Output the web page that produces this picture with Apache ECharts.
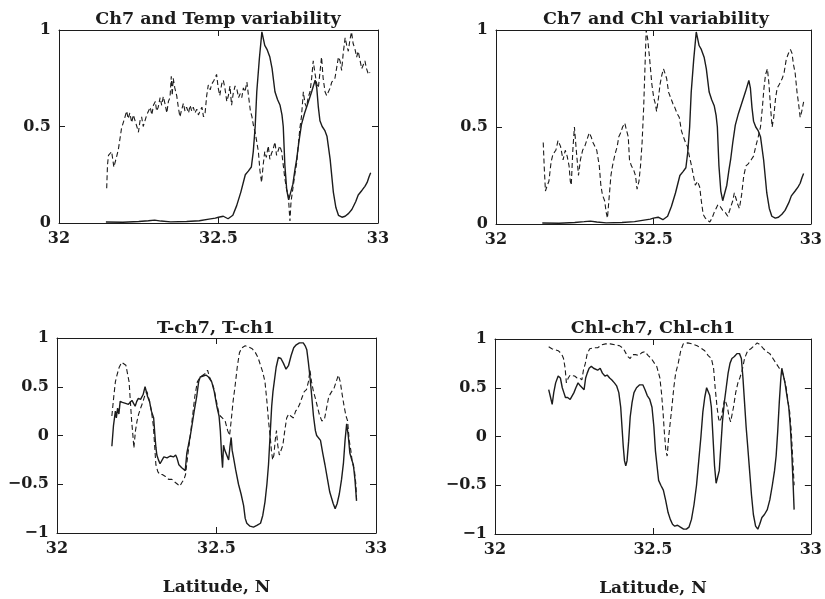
<!DOCTYPE html>
<html>
<head>
<meta charset="utf-8">
<script src="https://cdn.jsdelivr.net/npm/echarts@6/dist/echarts.min.js"></script>
<style>
  html, body { margin: 0; padding: 0; background: #fff; }
  #chart { width: 825px; height: 599px; }
</style>
</head>
<body>
<div id="chart"></div>
<script>
// latitude ticks and panel titles
var latTicks = [32, 32.5, 33];
var titles = ['Ch7 and Temp variability', 'Ch7 and Chl variability', 'T-ch7, T-ch1', 'Chl-ch7, Chl-ch1'];

// channel 7 variability (solid, top panels)
var ch7 = [[32.147,0.005],[32.2,0.004],[32.25,0.008],[32.28,0.012],[32.3,0.015],[32.32,0.01],[32.35,0.006],[32.4,0.008],[32.44,0.012],[32.47,0.02],[32.49,0.025],[32.5,0.03],[32.515,0.035],[32.53,0.022],[32.545,0.04],[32.557,0.09],[32.57,0.16],[32.584,0.25],[32.594,0.27],[32.603,0.29],[32.609,0.37],[32.615,0.5],[32.62,0.68],[32.628,0.85],[32.636,0.99],[32.645,0.92],[32.652,0.9],[32.661,0.86],[32.668,0.8],[32.677,0.68],[32.685,0.64],[32.693,0.61],[32.699,0.56],[32.703,0.5],[32.708,0.3],[32.714,0.17],[32.72,0.12],[32.726,0.13],[32.733,0.2],[32.74,0.28],[32.745,0.33],[32.752,0.42],[32.76,0.51],[32.77,0.57],[32.782,0.63],[32.792,0.68],[32.803,0.74],[32.808,0.7],[32.813,0.6],[32.818,0.53],[32.825,0.5],[32.833,0.48],[32.84,0.45],[32.85,0.33],[32.86,0.16],[32.868,0.08],[32.876,0.04],[32.887,0.03],[32.897,0.035],[32.908,0.05],[32.918,0.07],[32.93,0.11],[32.938,0.145],[32.95,0.17],[32.959,0.19],[32.966,0.21],[32.972,0.24],[32.977,0.26]];

// temperature variability (dashed, top left)
var temp = [[32.1495,0.18],[32.152,0.3],[32.155,0.35],[32.165,0.37],[32.172,0.29],[32.18,0.34],[32.186,0.38],[32.196,0.49],[32.207,0.55],[32.212,0.58],[32.217,0.54],[32.222,0.57],[32.228,0.52],[32.233,0.56],[32.238,0.57],[32.244,0.5],[32.249,0.47],[32.254,0.53],[32.259,0.55],[32.264,0.5],[32.27,0.51],[32.275,0.56],[32.28,0.57],[32.286,0.6],[32.291,0.56],[32.296,0.61],[32.302,0.63],[32.306,0.58],[32.311,0.6],[32.317,0.65],[32.322,0.61],[32.327,0.655],[32.332,0.62],[32.338,0.57],[32.343,0.63],[32.348,0.65],[32.352,0.76],[32.355,0.66],[32.358,0.75],[32.363,0.7],[32.369,0.66],[32.374,0.6],[32.379,0.55],[32.385,0.59],[32.39,0.62],[32.395,0.58],[32.4,0.6],[32.406,0.57],[32.411,0.61],[32.416,0.58],[32.421,0.6],[32.426,0.57],[32.432,0.59],[32.437,0.56],[32.442,0.58],[32.448,0.6],[32.453,0.55],[32.458,0.57],[32.463,0.66],[32.468,0.715],[32.474,0.69],[32.479,0.72],[32.486,0.74],[32.494,0.77],[32.499,0.7],[32.504,0.66],[32.51,0.72],[32.515,0.74],[32.52,0.7],[32.526,0.63],[32.531,0.66],[32.536,0.71],[32.541,0.61],[32.546,0.67],[32.552,0.71],[32.558,0.69],[32.563,0.65],[32.568,0.67],[32.573,0.65],[32.578,0.7],[32.583,0.68],[32.589,0.73],[32.594,0.66],[32.6,0.58],[32.605,0.55],[32.61,0.5],[32.615,0.47],[32.62,0.46],[32.625,0.37],[32.63,0.27],[32.635,0.21],[32.64,0.3],[32.645,0.37],[32.65,0.34],[32.656,0.4],[32.661,0.33],[32.666,0.36],[32.671,0.38],[32.677,0.42],[32.682,0.35],[32.687,0.34],[32.692,0.4],[32.698,0.37],[32.703,0.3],[32.708,0.23],[32.713,0.18],[32.719,0.14],[32.722,0.06],[32.724,0.01],[32.727,0.1],[32.729,0.13],[32.735,0.2],[32.74,0.26],[32.745,0.31],[32.75,0.4],[32.755,0.49],[32.76,0.55],[32.766,0.68],[32.771,0.62],[32.776,0.6],[32.781,0.65],[32.787,0.68],[32.792,0.75],[32.797,0.84],[32.802,0.78],[32.808,0.72],[32.813,0.7],[32.818,0.78],[32.823,0.86],[32.828,0.75],[32.834,0.68],[32.839,0.66],[32.844,0.65],[32.85,0.7],[32.855,0.73],[32.86,0.72],[32.865,0.75],[32.87,0.8],[32.876,0.86],[32.881,0.84],[32.886,0.79],[32.891,0.88],[32.897,0.96],[32.902,0.92],[32.907,0.89],[32.912,0.95],[32.917,0.99],[32.922,0.93],[32.928,0.9],[32.933,0.86],[32.938,0.89],[32.944,0.84],[32.949,0.8],[32.954,0.82],[32.959,0.84],[32.964,0.8],[32.97,0.77],[32.975,0.78]];

// chlorophyll variability (dashed, top right)
var chl = [[32.15,0.42],[32.153,0.3],[32.157,0.17],[32.163,0.2],[32.168,0.22],[32.175,0.32],[32.181,0.36],[32.19,0.38],[32.197,0.43],[32.205,0.4],[32.213,0.33],[32.22,0.38],[32.226,0.35],[32.232,0.3],[32.236,0.22],[32.239,0.2],[32.244,0.38],[32.249,0.5],[32.255,0.38],[32.262,0.25],[32.268,0.33],[32.275,0.38],[32.282,0.4],[32.29,0.44],[32.296,0.47],[32.302,0.45],[32.308,0.42],[32.314,0.43],[32.32,0.38],[32.328,0.3],[32.333,0.2],[32.338,0.15],[32.345,0.12],[32.35,0.06],[32.354,0.03],[32.36,0.15],[32.365,0.25],[32.37,0.3],[32.378,0.36],[32.385,0.4],[32.39,0.45],[32.396,0.47],[32.402,0.5],[32.409,0.52],[32.415,0.48],[32.42,0.45],[32.424,0.33],[32.43,0.3],[32.437,0.28],[32.443,0.25],[32.448,0.18],[32.454,0.22],[32.459,0.3],[32.464,0.42],[32.469,0.6],[32.473,0.8],[32.477,1.0],[32.482,0.95],[32.488,0.85],[32.495,0.72],[32.501,0.65],[32.506,0.62],[32.51,0.58],[32.516,0.65],[32.521,0.72],[32.527,0.77],[32.532,0.8],[32.537,0.8],[32.542,0.75],[32.548,0.68],[32.555,0.65],[32.562,0.62],[32.568,0.6],[32.575,0.57],[32.582,0.55],[32.589,0.48],[32.595,0.45],[32.602,0.42],[32.608,0.4],[32.614,0.35],[32.621,0.3],[32.627,0.25],[32.633,0.2],[32.64,0.22],[32.647,0.19],[32.652,0.12],[32.658,0.05],[32.665,0.03],[32.672,0.02],[32.679,0.01],[32.686,0.03],[32.693,0.06],[32.699,0.08],[32.705,0.1],[32.712,0.09],[32.72,0.07],[32.728,0.06],[32.736,0.04],[32.744,0.08],[32.752,0.12],[32.757,0.16],[32.762,0.15],[32.768,0.1],[32.773,0.08],[32.78,0.15],[32.787,0.25],[32.794,0.3],[32.801,0.31],[32.81,0.33],[32.818,0.35],[32.825,0.4],[32.833,0.45],[32.84,0.5],[32.846,0.6],[32.851,0.7],[32.856,0.77],[32.862,0.8],[32.867,0.72],[32.872,0.6],[32.877,0.5],[32.882,0.55],[32.888,0.65],[32.893,0.7],[32.9,0.72],[32.909,0.75],[32.915,0.78],[32.922,0.85],[32.929,0.88],[32.935,0.9],[32.94,0.88],[32.945,0.82],[32.95,0.78],[32.956,0.68],[32.961,0.62],[32.966,0.55],[32.971,0.58],[32.977,0.63]];

// T-ch7 (solid) and T-ch1 (dashed) correlation, bottom left
var tCh7 = [[32.172,-0.11],[32.177,0.1],[32.183,0.25],[32.186,0.18],[32.19,0.28],[32.194,0.22],[32.198,0.35],[32.205,0.34],[32.215,0.33],[32.224,0.32],[32.23,0.3],[32.235,0.36],[32.24,0.33],[32.245,0.3],[32.25,0.35],[32.255,0.38],[32.262,0.37],[32.27,0.42],[32.276,0.5],[32.279,0.51],[32.284,0.4],[32.29,0.35],[32.296,0.25],[32.303,0.18],[32.307,0.0],[32.31,-0.12],[32.313,-0.2],[32.318,-0.25],[32.323,-0.29],[32.328,-0.27],[32.335,-0.22],[32.345,-0.23],[32.355,-0.21],[32.365,-0.22],[32.372,-0.2],[32.376,-0.23],[32.382,-0.3],[32.391,-0.33],[32.397,-0.35],[32.402,-0.36],[32.407,-0.18],[32.412,-0.1],[32.418,0.0],[32.423,0.1],[32.43,0.25],[32.438,0.4],[32.444,0.55],[32.449,0.6],[32.458,0.61],[32.467,0.62],[32.475,0.6],[32.485,0.55],[32.493,0.45],[32.501,0.3],[32.508,0.2],[32.512,0.05],[32.516,-0.2],[32.519,-0.33],[32.522,-0.1],[32.526,-0.15],[32.532,-0.2],[32.538,-0.25],[32.542,-0.12],[32.546,-0.02],[32.549,-0.15],[32.553,-0.22],[32.56,-0.35],[32.569,-0.5],[32.577,-0.6],[32.585,-0.72],[32.59,-0.85],[32.595,-0.9],[32.605,-0.93],[32.616,-0.94],[32.628,-0.92],[32.638,-0.9],[32.645,-0.82],[32.652,-0.68],[32.658,-0.5],[32.663,-0.3],[32.668,0.0],[32.673,0.3],[32.677,0.45],[32.681,0.55],[32.687,0.7],[32.694,0.8],[32.702,0.79],[32.71,0.74],[32.718,0.68],[32.726,0.72],[32.734,0.82],[32.742,0.9],[32.75,0.93],[32.76,0.95],[32.772,0.95],[32.778,0.92],[32.783,0.88],[32.788,0.75],[32.793,0.6],[32.798,0.42],[32.804,0.2],[32.81,0.05],[32.814,0.0],[32.82,-0.02],[32.826,-0.05],[32.833,-0.18],[32.84,-0.3],[32.848,-0.45],[32.855,-0.58],[32.861,-0.6],[32.866,-0.7],[32.872,-0.75],[32.878,-0.7],[32.885,-0.6],[32.892,-0.45],[32.898,-0.28],[32.903,-0.05],[32.908,0.12],[32.913,0.0],[32.918,-0.18],[32.924,-0.25],[32.929,-0.3],[32.934,-0.45],[32.939,-0.67]];
var tCh1 = [[32.172,0.2],[32.178,0.4],[32.183,0.55],[32.188,0.62],[32.195,0.7],[32.203,0.75],[32.209,0.74],[32.216,0.72],[32.222,0.7],[32.226,0.55],[32.23,0.35],[32.234,0.15],[32.238,0.0],[32.241,-0.13],[32.246,0.05],[32.251,0.15],[32.256,0.22],[32.262,0.28],[32.27,0.35],[32.276,0.42],[32.282,0.45],[32.29,0.35],[32.296,0.25],[32.302,0.1],[32.306,-0.1],[32.31,-0.3],[32.316,-0.37],[32.322,-0.4],[32.33,-0.4],[32.34,-0.42],[32.35,-0.45],[32.36,-0.45],[32.37,-0.48],[32.378,-0.5],[32.385,-0.52],[32.392,-0.48],[32.398,-0.45],[32.403,-0.4],[32.41,-0.2],[32.418,0.0],[32.425,0.2],[32.432,0.4],[32.44,0.55],[32.449,0.6],[32.458,0.62],[32.467,0.64],[32.472,0.67],[32.478,0.6],[32.485,0.55],[32.492,0.48],[32.5,0.35],[32.506,0.25],[32.512,0.2],[32.518,0.18],[32.527,0.15],[32.535,0.05],[32.541,0.0],[32.546,0.15],[32.552,0.35],[32.558,0.5],[32.565,0.7],[32.572,0.85],[32.58,0.9],[32.59,0.92],[32.6,0.91],[32.612,0.89],[32.622,0.85],[32.63,0.8],[32.638,0.72],[32.645,0.65],[32.652,0.55],[32.658,0.35],[32.663,0.15],[32.668,0.0],[32.672,-0.15],[32.676,-0.25],[32.68,-0.2],[32.684,-0.05],[32.688,0.05],[32.692,-0.1],[32.697,-0.2],[32.703,-0.18],[32.708,-0.1],[32.714,0.05],[32.72,0.18],[32.726,0.22],[32.733,0.2],[32.741,0.18],[32.748,0.25],[32.755,0.28],[32.762,0.33],[32.767,0.38],[32.775,0.45],[32.782,0.47],[32.788,0.55],[32.793,0.67],[32.798,0.55],[32.804,0.45],[32.81,0.38],[32.816,0.3],[32.822,0.22],[32.83,0.15],[32.838,0.16],[32.845,0.28],[32.852,0.4],[32.861,0.45],[32.868,0.48],[32.875,0.55],[32.882,0.62],[32.888,0.55],[32.894,0.42],[32.9,0.3],[32.906,0.2],[32.911,0.15],[32.916,-0.05],[32.921,-0.15],[32.926,-0.28],[32.932,-0.35],[32.937,-0.5],[32.939,-0.65]];

// Chl-ch7 (solid) and Chl-ch1 (dashed) correlation, bottom right
var chlCh7 = [[32.17,0.48],[32.176,0.4],[32.181,0.33],[32.186,0.45],[32.192,0.55],[32.2,0.62],[32.207,0.6],[32.213,0.5],[32.218,0.45],[32.223,0.4],[32.23,0.4],[32.238,0.38],[32.244,0.38],[32.25,0.45],[32.256,0.5],[32.263,0.55],[32.27,0.52],[32.276,0.52],[32.282,0.48],[32.287,0.6],[32.292,0.65],[32.298,0.7],[32.305,0.72],[32.312,0.7],[32.318,0.72],[32.325,0.68],[32.333,0.7],[32.34,0.65],[32.348,0.62],[32.355,0.63],[32.363,0.6],[32.37,0.58],[32.378,0.55],[32.385,0.52],[32.392,0.45],[32.398,0.3],[32.402,0.1],[32.406,-0.1],[32.41,-0.25],[32.414,-0.3],[32.418,-0.25],[32.423,-0.05],[32.428,0.2],[32.434,0.35],[32.44,0.45],[32.448,0.5],[32.458,0.53],[32.468,0.53],[32.475,0.48],[32.482,0.42],[32.49,0.38],[32.497,0.3],[32.503,0.1],[32.508,-0.15],[32.513,-0.3],[32.518,-0.45],[32.525,-0.5],[32.533,-0.55],[32.54,-0.65],[32.548,-0.78],[32.555,-0.85],[32.562,-0.9],[32.569,-0.92],[32.578,-0.91],[32.587,-0.93],[32.597,-0.95],[32.606,-0.95],[32.614,-0.93],[32.622,-0.85],[32.63,-0.7],[32.638,-0.5],[32.645,-0.25],[32.652,0.0],[32.658,0.25],[32.664,0.4],[32.67,0.5],[32.675,0.5],[32.68,0.42],[32.685,0.3],[32.69,0.0],[32.695,-0.3],[32.7,-0.48],[32.705,-0.5],[32.71,-0.35],[32.715,-0.1],[32.72,0.15],[32.726,0.35],[32.732,0.5],[32.738,0.65],[32.744,0.75],[32.75,0.8],[32.758,0.82],[32.766,0.85],[32.774,0.85],[32.78,0.8],[32.785,0.6],[32.79,0.35],[32.795,0.1],[32.8,-0.1],[32.806,-0.35],[32.812,-0.6],[32.818,-0.8],[32.825,-0.92],[32.832,-0.95],[32.838,-0.9],[32.845,-0.83],[32.853,-0.8],[32.862,-0.75],[32.87,-0.65],[32.878,-0.5],[32.885,-0.35],[32.89,-0.2],[32.895,0.05],[32.9,0.35],[32.905,0.6],[32.908,0.7],[32.912,0.68],[32.918,0.55],[32.925,0.4],[32.93,0.3],[32.935,0.1],[32.94,-0.2],[32.944,-0.5],[32.947,-0.75]];
var chlCh1 = [[32.17,0.92],[32.18,0.9],[32.19,0.89],[32.2,0.88],[32.207,0.86],[32.213,0.83],[32.217,0.8],[32.222,0.7],[32.226,0.55],[32.232,0.6],[32.238,0.63],[32.244,0.63],[32.252,0.62],[32.26,0.6],[32.268,0.6],[32.275,0.58],[32.28,0.68],[32.286,0.75],[32.292,0.85],[32.3,0.9],[32.312,0.91],[32.325,0.91],[32.338,0.94],[32.35,0.95],[32.365,0.95],[32.38,0.94],[32.395,0.93],[32.407,0.9],[32.415,0.85],[32.42,0.82],[32.428,0.8],[32.435,0.84],[32.445,0.84],[32.455,0.83],[32.465,0.86],[32.475,0.87],[32.485,0.83],[32.495,0.8],[32.505,0.75],[32.512,0.72],[32.517,0.7],[32.522,0.6],[32.527,0.45],[32.532,0.25],[32.536,0.05],[32.541,-0.15],[32.545,-0.2],[32.55,0.0],[32.555,0.15],[32.56,0.3],[32.566,0.5],[32.572,0.65],[32.58,0.75],[32.588,0.88],[32.596,0.95],[32.61,0.96],[32.625,0.95],[32.64,0.93],[32.655,0.9],[32.664,0.88],[32.675,0.83],[32.685,0.8],[32.692,0.7],[32.697,0.5],[32.703,0.3],[32.708,0.18],[32.712,0.15],[32.717,0.2],[32.722,0.3],[32.727,0.38],[32.731,0.35],[32.736,0.3],[32.741,0.2],[32.746,0.15],[32.75,0.17],[32.755,0.3],[32.762,0.45],[32.769,0.55],[32.775,0.6],[32.782,0.67],[32.79,0.8],[32.8,0.88],[32.81,0.9],[32.82,0.93],[32.83,0.96],[32.84,0.94],[32.85,0.9],[32.86,0.87],[32.87,0.85],[32.88,0.8],[32.89,0.75],[32.9,0.7],[32.908,0.68],[32.915,0.6],[32.922,0.5],[32.928,0.35],[32.933,0.25],[32.938,0.05],[32.943,-0.25],[32.947,-0.5]];

(function() {
  var ink = '#1c1c1c';
  var font = 'DejaVu Serif';

  var grids = [
    { left: 59, top: 30, width: 319, height: 193 },
    { left: 496, top: 30, width: 318, height: 194 },
    { left: 57, top: 338, width: 319, height: 195 },
    { left: 495, top: 339, width: 317, height: 195 }
  ];
  var yRanges = [[0, 1], [0, 1], [-1, 1], [-1, 1]];
  var titleCenters = [[218, 10], [656, 10], [216, 319], [653, 319]];

  var xAxes = [], yAxes = [], series = [], titleList = [];

  function yLabel(v) {
    return String(v).replace('-', '\u2212');
  }

  grids.forEach(function(g, i) {
    var bottom = i >= 2;
    titleList.push({
      text: titles[i],
      left: titleCenters[i][0],
      top: titleCenters[i][1],
      textAlign: 'center',
      padding: 0,
      textStyle: { fontFamily: font, fontWeight: 'bold', fontSize: 17.5, color: ink }
    });
    // bottom x axis with labels, plus a mirrored top axis for the box ticks
    xAxes.push({
      gridIndex: i, type: 'value', min: 32, max: 33, interval: 0.5,
      position: 'bottom',
      name: bottom ? 'Latitude, N' : '',
      nameLocation: 'middle', nameGap: 46,
      nameTextStyle: { fontFamily: font, fontWeight: 'bold', fontSize: 17, color: ink },
      axisLine: { onZero: false, lineStyle: { color: ink, width: 1 } },
      axisTick: { inside: true, length: 6, lineStyle: { color: ink } },
      axisLabel: { margin: 8, fontFamily: font, fontWeight: 'bold', fontSize: 16, color: ink,
        formatter: function(v) { return latTicks.indexOf(v) >= 0 ? String(v) : ''; } },
      splitLine: { show: false }
    });
    xAxes.push({
      gridIndex: i, type: 'value', min: 32, max: 33, interval: 0.5,
      position: 'top',
      axisLine: { onZero: false, lineStyle: { color: ink, width: 1 } },
      axisTick: { inside: true, length: 6, lineStyle: { color: ink } },
      axisLabel: { show: false },
      splitLine: { show: false }
    });
    yAxes.push({
      gridIndex: i, type: 'value', min: yRanges[i][0], max: yRanges[i][1], interval: 0.5,
      position: 'left',
      axisLine: { show: true, onZero: false, lineStyle: { color: ink, width: 1 } },
      axisTick: { show: true, inside: true, length: 6, lineStyle: { color: ink } },
      axisLabel: { margin: 8, fontFamily: font, fontWeight: 'bold', fontSize: 16, color: ink, formatter: yLabel },
      splitLine: { show: false }
    });
    yAxes.push({
      gridIndex: i, type: 'value', min: yRanges[i][0], max: yRanges[i][1], interval: 0.5,
      position: 'right',
      axisLine: { show: true, onZero: false, lineStyle: { color: ink, width: 1 } },
      axisTick: { show: true, inside: true, length: 6, lineStyle: { color: ink } },
      axisLabel: { show: false },
      splitLine: { show: false }
    });
  });

  function line(data, i, dashed) {
    return {
      type: 'line', xAxisIndex: i * 2, yAxisIndex: i * 2, data: data,
      showSymbol: false, symbol: 'none', silent: true,
      lineStyle: { color: ink, width: dashed ? 1.1 : 1.4, type: dashed ? [5, 3] : 'solid' }
    };
  }

  series.push(line(ch7, 0, false), line(temp, 0, true));
  series.push(line(ch7, 1, false), line(chl, 1, true));
  series.push(line(tCh7, 2, false), line(tCh1, 2, true));
  series.push(line(chlCh7, 3, false), line(chlCh1, 3, true));

  var chart = echarts.init(document.getElementById('chart'), null, { renderer: 'canvas' });
  chart.setOption({
    animation: false,
    backgroundColor: '#fff',
    title: titleList,
    grid: grids,
    xAxis: xAxes,
    yAxis: yAxes,
    series: series
  });
  window.addEventListener('resize', function() { chart.resize(); });
})();
</script>
</body>
</html>
